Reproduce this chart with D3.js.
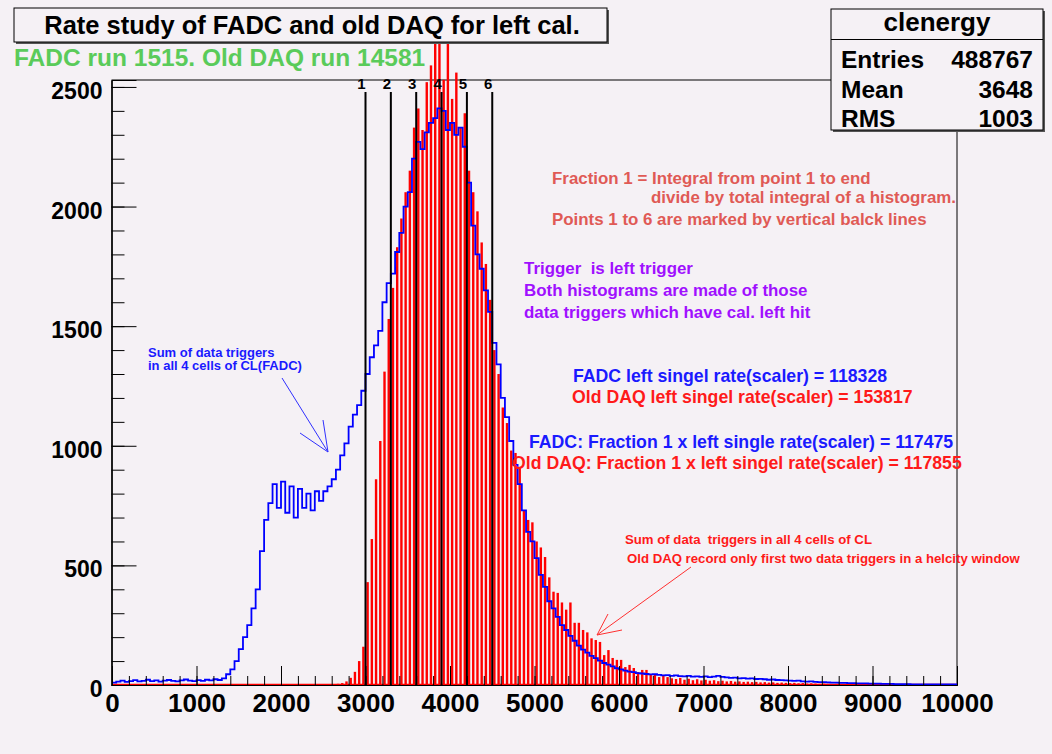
<!DOCTYPE html>
<html>
<head>
<meta charset="utf-8">
<script src="https://cdn.jsdelivr.net/npm/d3@7"></script>
<style>
  html, body { margin: 0; padding: 0; background: #f5f1f5; }
  svg { display: block; }
  text { font-family: "Liberation Sans", Arial, Helvetica, sans-serif; font-weight: bold; white-space: pre; }
</style>
</head>
<body>
<svg id="chart" width="1052" height="754"></svg>
<script>
// ---------------- DATA ----------------
const histTitle = "Rate study of FADC and old DAQ for left cal.";
const runText = "FADC run 1515. Old DAQ run 14581";
const statsName = "clenergy";
const statsLabels = ["Entries", "Mean", "RMS"];
const statsValues = ["488767", "3648", "1003"];

const xDomain = [0, 10000];
const yMax = 2529;
const xTickValues = [0, 1000, 2000, 3000, 4000, 5000, 6000, 7000, 8000, 9000, 10000];
const yTickValues = [0, 500, 1000, 1500, 2000, 2500];

const binWidth = 50;
// FADC (blue) bin contents, bins of 50 starting at 0
const fadcStart = 0;
const fadcCounts = [
  10,14,18,13,16,20,15,17,22,16,19,14,18,21,17,15,19,23,18,16,20,17,22,19,24,21,
  28,45,65,100,150,200,250,320,400,560,690,760,840,740,850,720,830,700,820,740,800,730,810,770,810,830,
  860,900,960,1010,1080,1130,1170,1230,1300,1370,1420,1480,1600,1680,1720,1810,1890,2000,2060,2200,2270,2240,2310,2350,2370,2410,
  2400,2320,2350,2300,2330,2250,2100,1920,1800,1740,1650,1560,1430,1340,1200,1120,1020,920,840,730,640,600,530,460,410,350,
  320,285,250,230,205,185,165,148,135,122,112,102,92,85,78,70,65,60,56,54,50,48,46,44,45,42,
  40,41,38,40,37,36,38,35,36,34,36,33,35,38,34,32,30,31,28,29,27,28,25,26,24,22,
  23,21,20,19,18,17,18,15,14,15,13,12,12,11,10,10,9,9,8,8,7,7,7,6,6,6,
  5,5,5,4,4,4,4,3,3,3,3,3,2,2,2,2,2,2
];
// Old DAQ (red) bin contents, bins of 50 starting at 2600
const daqStart = 2600;
const daqCounts = [
  3,5,8,15,30,55,100,160,
  430,610,860,1020,1310,1530,1660,1830,1950,2060,
  2150,2330,2410,2320,2520,2590,2760,2780,2530,2800,
  2450,2560,2330,2390,2150,2060,1980,1850,1760,1610,
  1400,1300,1160,1095,980,970,910,730,690,680,
  600,575,535,450,390,385,345,315,345,260,
  260,230,220,195,188,180,125,146,113,105,
  105,75,84,71,54,63,63,42,46,33,
  42,33,28,25,30,22,26,20,24,19,
  22,18,20,16,18,15,17,14,15,13,
  14,12,13,11,12,10,11,9,10,9,
  8,9,7,8,6,7,6,5,6,5,
  4,5,4,4,3,4,3,3,3,2,
  2,2,2,2,1,1,1,1,1
];
// marked points 1..6
const pointLabels = ["1", "2", "3", "4", "5", "6"];
const pointValues = [3000, 3300, 3600, 3900, 4200, 4500];

const noteFraction = ["Fraction 1 = Integral from point 1 to end", "divide by total integral of a histogram.", "Points 1 to 6 are marked by vertical balck lines"];
const noteTrigger = ["Trigger  is left trigger", "Both histograms are made of those", "data triggers which have cal. left hit"];
const noteRates = [
  "FADC left singel rate(scaler) = 118328",
  "Old DAQ left singel rate(scaler) = 153817",
  "FADC: Fraction 1 x left single rate(scaler) = 117475",
  "Old DAQ: Fraction 1 x left singel rate(scaler) = 117855"
];
const noteRed = ["Sum of data  triggers in all 4 cells of CL", "Old DAQ record only first two data triggers in a helcity window"];
const noteBlue = ["Sum of data triggers", "in all 4 cells of CL(FADC)"];

// ---------------- DRAW ----------------
(function () {
const svg = d3.select("#chart");
const W = 1052, H = 754;
const bg = "#f5f1f5";
svg.append("rect").attr("width", W).attr("height", H).attr("fill", bg);

const pLeft = 112, pRight = 957, pTop = 80, pBottom = 685;
const x = d3.scaleLinear().domain(xDomain).range([pLeft, pRight]);
const y = d3.scaleLinear().domain([0, yMax]).range([pBottom, pTop]);

// frame
svg.append("rect").attr("x", pLeft).attr("y", pTop).attr("width", pRight - pLeft).attr("height", pBottom - pTop)
  .attr("fill", "none").attr("stroke", "#000").attr("stroke-width", 1);

// red histogram (Old DAQ) bars
const daqData = daqCounts.map((v, i) => ({ x0: daqStart + i * binWidth, v }));
svg.append("g").selectAll("rect").data(daqData).join("rect")
  .attr("x", d => x(d.x0 + binWidth / 2) - 1.2)
  .attr("width", 2.4)
  .attr("y", d => y(d.v))
  .attr("height", d => pBottom - y(d.v))
  .attr("fill", "#ff0000");
// red baseline
svg.append("line").attr("x1", x(0)).attr("x2", x(10000)).attr("y1", pBottom - 0.5).attr("y2", pBottom - 0.5)
  .attr("stroke", "#ff0000").attr("stroke-width", 1.5);

// blue histogram (FADC) step line
const fadcPts = fadcCounts.map((v, i) => [fadcStart + i * binWidth, v]);
fadcPts.push([fadcStart + fadcCounts.length * binWidth, fadcCounts[fadcCounts.length - 1]]);
const step = d3.line().x(d => x(d[0])).y(d => y(d[1])).curve(d3.curveStepAfter);
svg.append("path").attr("d", step(fadcPts)).attr("fill", "none").attr("stroke", "#0000ff").attr("stroke-width", 1.8);

// axes
const yAxis = d3.axisLeft(y).tickValues(yTickValues).tickSize(-25).tickPadding(9).tickFormat(d3.format("d"));
const yMinor = d3.axisLeft(y).tickValues(d3.range(0, 2501, 100)).tickSize(-13).tickFormat("");
const gyMinor = svg.append("g").attr("transform", `translate(${pLeft - 0.5},0)`).call(yMinor);
const gy = svg.append("g").attr("transform", `translate(${pLeft - 0.5},0)`).call(yAxis);
[gy, gyMinor].forEach(g => { g.select(".domain").attr("stroke", "#000"); g.selectAll("line").attr("stroke", "#000"); });
gy.selectAll("text").attr("font-size", 23).attr("fill", "#000").attr("dy", "0.5em")
  .style("font-family", "'Liberation Sans', Arial, sans-serif").style("font-weight", "bold");

const xAxis = d3.axisBottom(x).tickValues(xTickValues).tickSize(-19).tickPadding(9).tickFormat(d3.format("d"));
const xMinor = d3.axisBottom(x).tickValues(d3.range(0, 10001, 200)).tickSize(-9).tickFormat("");
const gxMinor = svg.append("g").attr("transform", `translate(0,${pBottom})`).call(xMinor);
const gx = svg.append("g").attr("transform", `translate(0,${pBottom})`).call(xAxis);
[gx, gxMinor].forEach(g => { g.select(".domain").attr("stroke", "#000"); g.selectAll("line").attr("stroke", "#000"); });
gx.selectAll("text").attr("font-size", 26).attr("fill", "#000")
  .style("font-family", "'Liberation Sans', Arial, sans-serif").style("font-weight", "bold");

// vertical black lines with labels
const gp = svg.append("g");
gp.selectAll("line").data(pointValues).join("line")
  .attr("x1", d => x(d)).attr("x2", d => x(d)).attr("y1", 92).attr("y2", pBottom)
  .attr("stroke", "#000").attr("stroke-width", 2);
gp.selectAll("text").data(pointValues).join("text")
  .attr("x", d => x(d) - 4).attr("y", 89).attr("text-anchor", "middle")
  .attr("font-size", 15).attr("fill", "#000").text((d, i) => pointLabels[i]);

// title box (drawn over bars)
svg.append("rect").attr("x", 16).attr("y", 10).attr("width", 593).attr("height", 34).attr("fill", "#555");
svg.append("rect").attr("x", 14).attr("y", 8).attr("width", 593).attr("height", 34).attr("fill", bg).attr("stroke", "#000").attr("stroke-width", 1);
svg.append("text").attr("x", 312).attr("y", 34).attr("text-anchor", "middle").attr("font-size", 25.5).attr("fill", "#000").text(histTitle);

svg.append("text").attr("x", 14).attr("y", 66).attr("font-size", 24.5).attr("fill", "#5acb5a").text(runText);

// stats box
svg.append("rect").attr("x", 833).attr("y", 11).attr("width", 212).attr("height", 121).attr("fill", "#555");
svg.append("rect").attr("x", 831).attr("y", 9).attr("width", 212).attr("height", 121).attr("fill", bg).attr("stroke", "#000").attr("stroke-width", 1);
svg.append("line").attr("x1", 831).attr("x2", 1043).attr("y1", 39.5).attr("y2", 39.5).attr("stroke", "#000");
svg.append("text").attr("x", 937).attr("y", 31).attr("text-anchor", "middle").attr("font-size", 26).attr("fill", "#000").text(statsName);
statsLabels.forEach((lab, i) => {
  svg.append("text").attr("x", 841).attr("y", 68 + i * 29.5).attr("font-size", 24.5).attr("fill", "#000").text(lab);
  svg.append("text").attr("x", 1033).attr("y", 68 + i * 29.5).attr("text-anchor", "end").attr("font-size", 24.5).attr("fill", "#000").text(statsValues[i]);
});

// annotations
const salmon = "#e05a55", purple = "#a010ff", blueT = "#1a1aff", redT = "#ff1a1a";
const ann = (tx, ty, s, fs, col) => svg.append("text").attr("x", tx).attr("y", ty).attr("font-size", fs).attr("fill", col).text(s);
ann(552, 184, noteFraction[0], 16.9, salmon);
ann(651, 203, noteFraction[1], 16.9, salmon);
ann(552, 225, noteFraction[2], 16.9, salmon);
ann(524, 274, noteTrigger[0], 16.9, purple);
ann(524, 296, noteTrigger[1], 16.9, purple);
ann(524, 318, noteTrigger[2], 16.9, purple);
ann(573, 382, noteRates[0], 17.7, blueT);
ann(572, 403, noteRates[1], 17.7, redT);
ann(529, 448, noteRates[2], 17.7, blueT);
ann(512, 469, noteRates[3], 17.7, redT);
ann(625, 544, noteRed[0], 13.2, redT);
ann(627, 563, noteRed[1], 13.2, redT);
ann(148, 357, noteBlue[0], 13, blueT);
ann(148, 370, noteBlue[1], 13, blueT);

// arrows
const arrow = (pts, col) => svg.append("path").attr("d", d3.line()(pts)).attr("fill", "none").attr("stroke", col).attr("stroke-width", 1);
arrow([[691, 567], [597, 635]], "#ff3030");
arrow([[608, 614], [597, 635], [622, 630]], "#ff3030");
arrow([[282, 378], [328, 452]], "#3030ff");
arrow([[300, 433], [328, 452], [323, 420]], "#3030ff");
})();
</script>
</body>
</html>
